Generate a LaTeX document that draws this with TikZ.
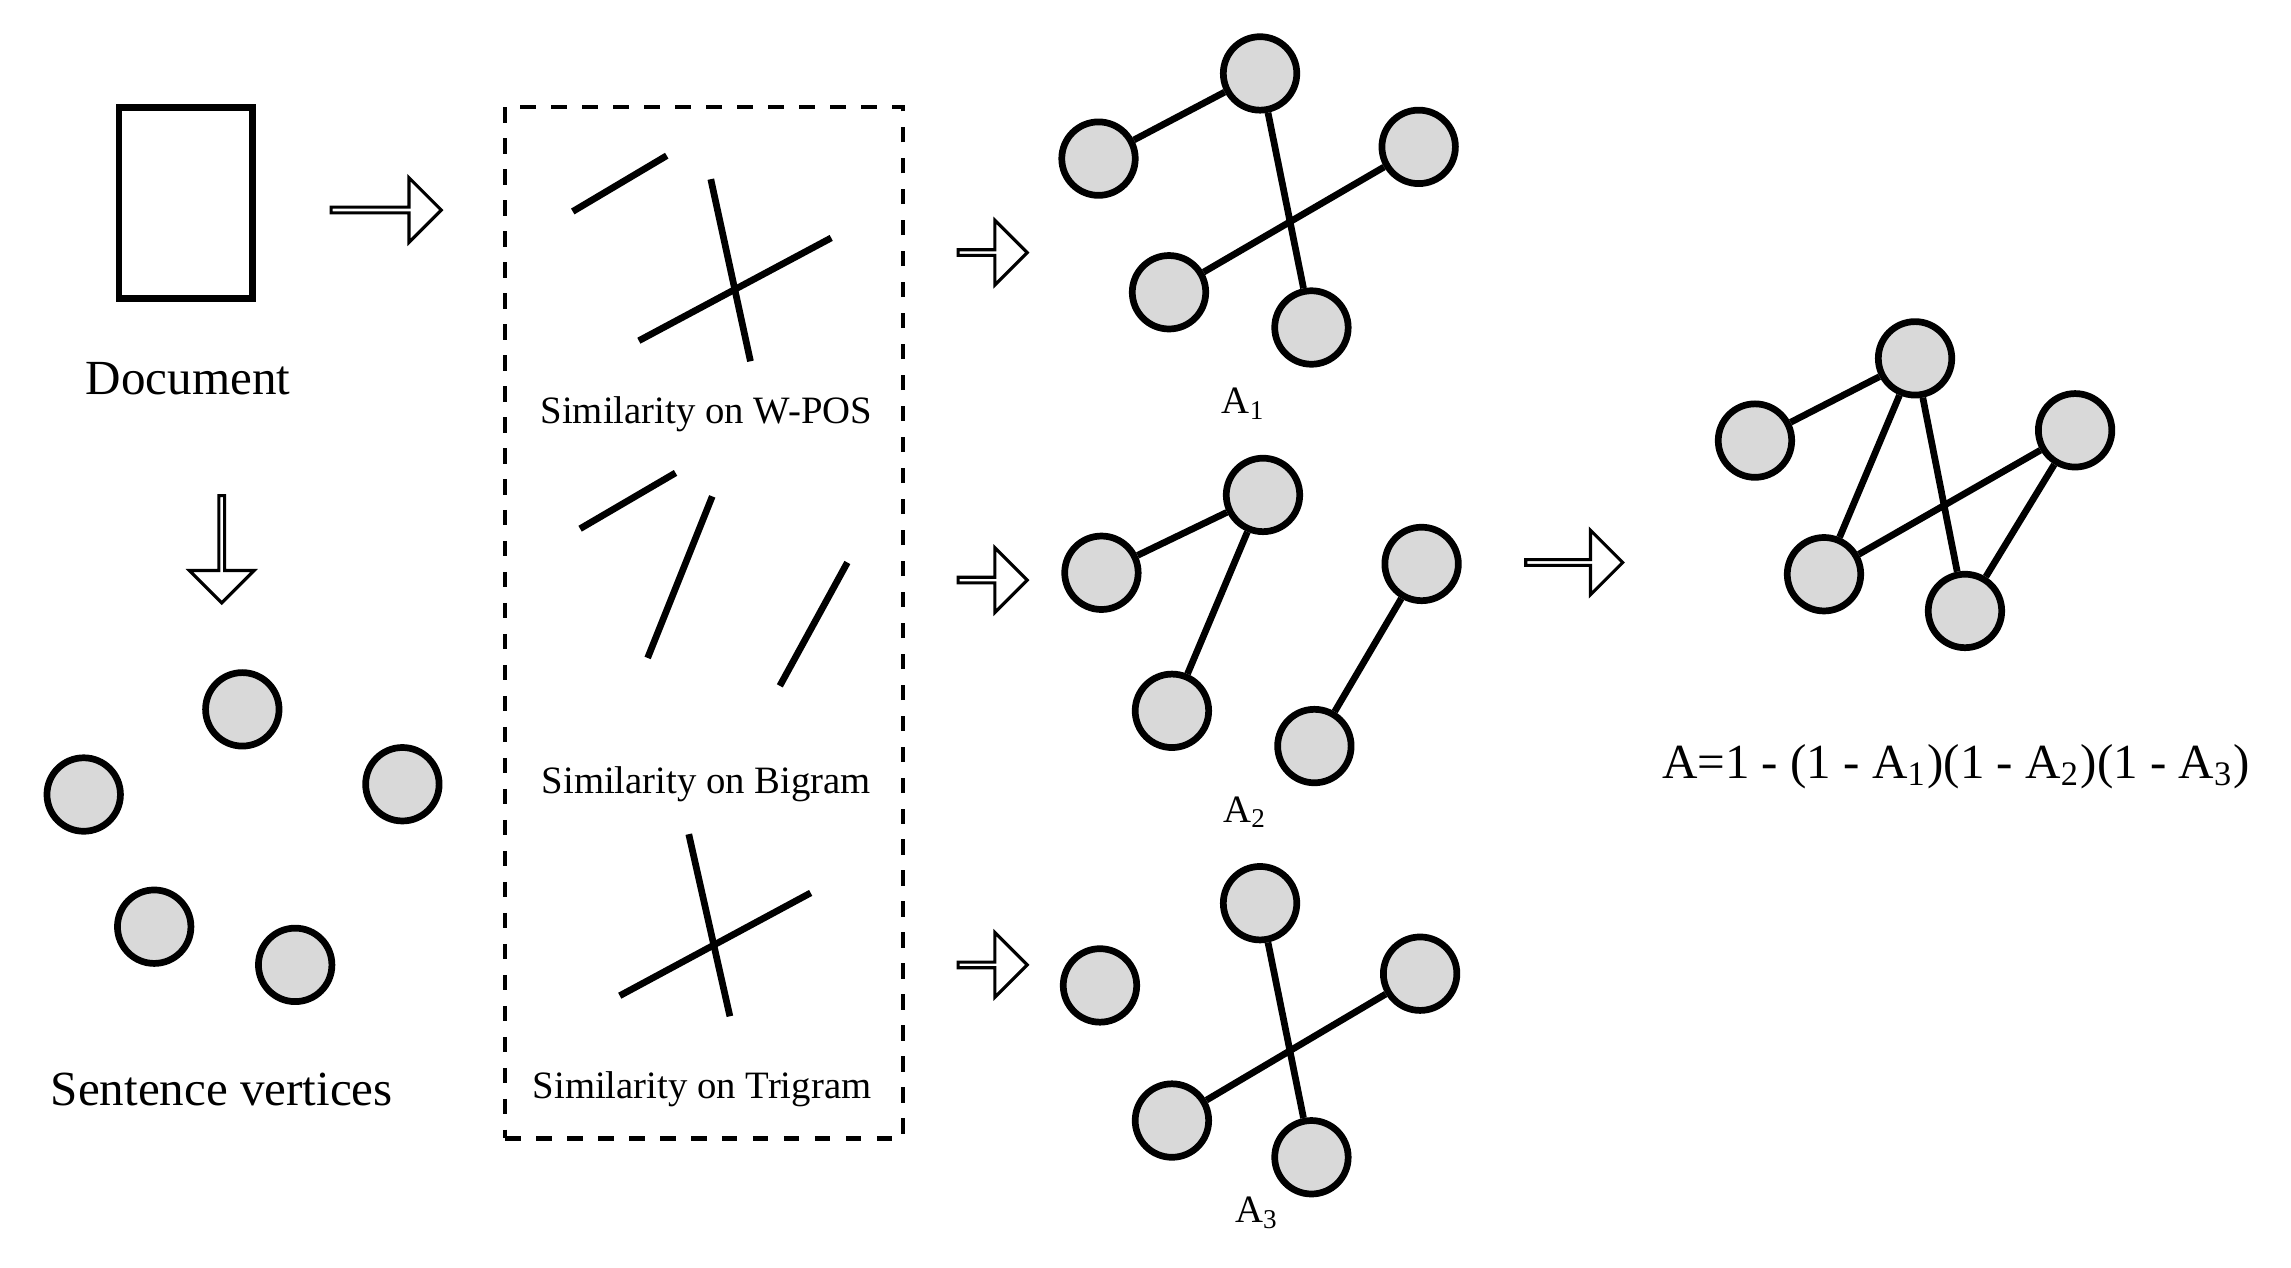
\documentclass[tikz,border=0pt]{standalone}
\usepackage{fontspec}
\setmainfont{Liberation Serif}
\usetikzlibrary{shapes.arrows}
\begin{document}
\begin{tikzpicture}[x=0.01cm,y=-0.01cm,
 v/.style={circle,draw,line width=1.3pt,fill={rgb,255:red,217;green,217;blue,217},minimum size=0.5cm,inner sep=0pt},
 e/.style={line width=1.3pt},
 bar/.style={line width=1.3pt},
 big/.style={font=\fontsize{9.5}{11}\selectfont},
 small/.style={font=\fontsize{7.5}{9}\selectfont},
 blk/.style={single arrow,draw,line width=0.6pt,fill=white,minimum width=0.44cm,single arrow head extend=0.11cm,inner sep=0pt}]
\useasboundingbox (0,0) rectangle (1560,863);
\node[draw,line width=1.3pt,minimum width=0.91cm,minimum height=1.3cm,inner sep=0pt] (doc) at (126.5,138) {};
\node[big] (doct) at (128,258) {Document};
\node[blk,minimum height=0.75cm] (ar1) at (262,143) {};
\node[blk,minimum height=0.73cm,shape border rotate=270] (ar2) at (151,373) {};
\node[blk,minimum height=0.47cm] (ar3) at (675,172) {};
\node[blk,minimum height=0.47cm] (ar4) at (675,395) {};
\node[blk,minimum height=0.47cm] (ar5) at (675,657) {};
\node[blk,minimum height=0.66cm] (ar6) at (1071,383) {};
\node[draw,dashed,line width=0.8pt,minimum width=2.71cm,minimum height=7.02cm,inner sep=0pt] (box) at (479.5,424) {};
% panel lines
\draw[bar] (390,144)--(454,106); \draw[bar] (484,122)--(511,246); \draw[bar] (435,232)--(566,162);
\draw[bar] (395,360)--(460,322); \draw[bar] (485,338)--(441,448); \draw[bar] (577,383)--(531,467);
\draw[bar] (469,568)--(497,692); \draw[bar] (422,678)--(552,608);
\node[small] (l1) at (481,282) {Similarity on W-POS};
\node[small] (l2) at (481,534) {Similarity on Bigram};
\node[small] (l3) at (478,742) {Similarity on Trigram};
% sentence vertices
\node[v] (s1) at (165,483) {}; \node[v] (s2) at (57,541) {}; \node[v] (s3) at (274,534) {};
\node[v] (s4) at (105,631) {}; \node[v] (s5) at (201,657) {};
\node[big] (st) at (151,742) {Sentence vertices};
% A1
\node[v] (a1) at (858,50) {}; \node[v] (b1) at (748,108) {}; \node[v] (c1) at (966,100) {};
\node[v] (d1) at (796,199) {}; \node[v] (e1) at (893,223) {};
\draw[e] (a1)--(b1) (a1)--(e1) (c1)--(d1);
\node[small] (t1) at (847,275) {A\textsubscript{1}};
% A2
\node[v] (a2) at (860,337) {}; \node[v] (b2) at (750,390) {}; \node[v] (c2) at (968,384) {};
\node[v] (d2) at (798,484) {}; \node[v] (e2) at (895,508) {};
\draw[e] (a2)--(b2) (a2)--(d2) (c2)--(e2);
\node[small] (t2) at (848,553) {A\textsubscript{2}};
% A3
\node[v] (a3) at (858,615) {}; \node[v] (b3) at (749,671) {}; \node[v] (c3) at (967,663) {};
\node[v] (d3) at (798,763) {}; \node[v] (e3) at (893,788) {};
\draw[e] (a3)--(e3) (c3)--(d3);
\node[small] (t3) at (856,826) {A\textsubscript{3}};
% final
\node[v] (a4) at (1304,244) {}; \node[v] (b4) at (1195,300) {}; \node[v] (c4) at (1413,293) {};
\node[v] (d4) at (1242,391) {}; \node[v] (e4) at (1338,416) {};
\draw[e] (a4)--(b4) (a4)--(d4) (a4)--(e4) (d4)--(c4) (c4)--(e4);
\node[big] (t4) at (1332,522) {A=1 - (1 - A\textsubscript{1})(1 - A\textsubscript{2})(1 - A\textsubscript{3})};
\end{tikzpicture}
\end{document}
